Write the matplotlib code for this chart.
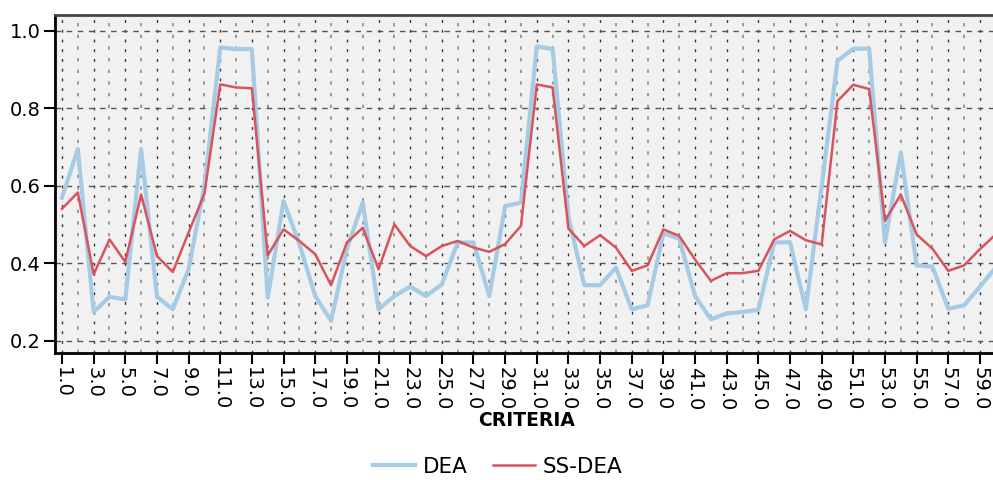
# imports des bibliothèques
import matplotlib
matplotlib.use('Agg')
import matplotlib.pyplot as plt
from matplotlib.ticker import MultipleLocator

# données : critères et scores des deux modèles
criteres = list(range(1, 61))
dea = [0.57, 0.695, 0.275, 0.314, 0.307, 0.695, 0.314, 0.282, 0.385, 0.60,
       0.957, 0.953, 0.953, 0.312, 0.561, 0.45, 0.316, 0.252, 0.437, 0.557,
       0.282, 0.316, 0.34, 0.316, 0.346, 0.454, 0.454, 0.316, 0.548, 0.557,
       0.96, 0.953, 0.52, 0.344, 0.344, 0.389, 0.282, 0.292, 0.478, 0.464,
       0.316, 0.256, 0.271, 0.275, 0.28, 0.454, 0.455, 0.282, 0.60, 0.923,
       0.954, 0.954, 0.454, 0.686, 0.395, 0.392, 0.283, 0.292, 0.34, 0.39]
ss_dea = [0.541, 0.583, 0.372, 0.462, 0.404, 0.578, 0.419, 0.378, 0.48, 0.58,
          0.862, 0.854, 0.852, 0.421, 0.488, 0.458, 0.424, 0.344, 0.454, 0.492,
          0.385, 0.501, 0.445, 0.419, 0.445, 0.458, 0.441, 0.43, 0.45, 0.497,
          0.862, 0.854, 0.49, 0.445, 0.473, 0.441, 0.381, 0.395, 0.488, 0.471,
          0.41, 0.355, 0.375, 0.375, 0.381, 0.462, 0.484, 0.46, 0.449, 0.819,
          0.861, 0.85, 0.51, 0.578, 0.475, 0.438, 0.381, 0.395, 0.437, 0.475]
ticks_x = criteres[::2]
ticks_y = [0.2, 0.4, 0.6, 0.8, 1.0]

plt.rcParams['font.family'] = ['DejaVu Sans']

#création de la figure
fig = plt.figure(figsize=(9.93, 4.8), dpi=100)
ax = fig.add_axes([55 / 993, 1 - 353 / 480, (1010 - 55) / 993, 338 / 480])
ax.set_facecolor("#f1f1f1")

# courbes
ax.plot(criteres, dea, color="#a6cbe5", linewidth=3, label="DEA", zorder=3)
ax.plot(criteres, ss_dea, color="#d8535b", linewidth=1.8, label="SS-DEA", zorder=4)

# axes et graduations
ax.set_xlim(0.558, 60.9)
ax.set_ylim(0.169, 1.041)
ax.set_xticks(ticks_x)
ax.set_xticklabels([f"{v:.1f}" for v in ticks_x], rotation=270, fontsize=14)
ax.xaxis.set_minor_locator(MultipleLocator(1))
ax.set_yticks(ticks_y)
ax.set_yticklabels([f"{v:.1f}" for v in ticks_y], fontsize=14)
ax.tick_params(axis="both", which="major", length=8, width=1.5, color="black", pad=2)
ax.tick_params(axis="x", which="minor", length=0)

# grille en pointillés
ax.grid(True, axis="x", which="major", linestyle=(0, (2, 5)), color="#333333", linewidth=1)
ax.grid(True, axis="x", which="minor", linestyle=(0, (2, 5)), color="#8a8a8a", linewidth=1.2)
ax.grid(True, axis="y", which="major", linestyle=(0, (4, 4)), color="#555555", linewidth=1)
ax.set_axisbelow(True)

for cote in ["left", "bottom"]:
    ax.spines[cote].set_linewidth(2)
    ax.spines[cote].set_color("black")
ax.spines["top"].set_linewidth(2)
ax.spines["top"].set_color("#444444")
ax.spines["right"].set_visible(False)

# titre de l'axe x
fig.text(527 / 993, 1 - 421 / 480, "CRITERIA", fontsize=13.5, fontweight="bold",
         ha="center", va="center")

# légende en bas
fig.legend(loc="center", bbox_to_anchor=(498 / 993, 1 - 467 / 480), ncol=2,
           frameon=False, fontsize=15.5, handlelength=1.95, columnspacing=1.16,
           handletextpad=0.37)

fig.savefig("out.png", dpi=100)
plt.close(fig)
